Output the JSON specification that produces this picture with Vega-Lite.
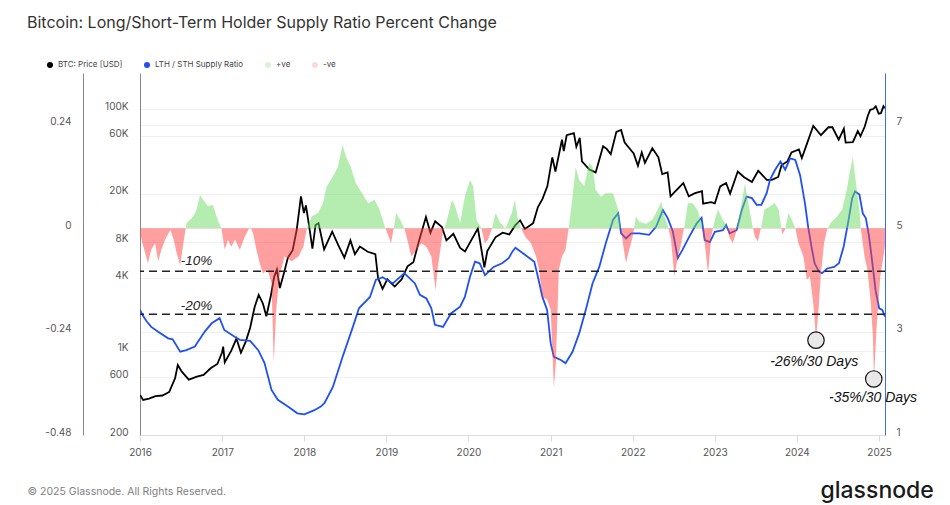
{
  "$schema": "https://vega.github.io/schema/vega-lite/v6.json",
  "width": 745,
  "height": 362,
  "autosize": "none",
  "padding": {"left": 140, "top": 73, "right": 65, "bottom": 70},
  "background": "white",
  "config": {
    "view": {"stroke": null},
    "font": "Inter",
    "axis": {"labelFont": "Inter", "titleFont": "Inter"}
  },
  "title": {
    "text": "Bitcoin: Long/Short-Term Holder Supply Ratio Percent Change",
    "anchor": "start",
    "frame": "group",
    "dx": -113,
    "fontSize": 16,
    "fontWeight": 400,
    "font": "Inter",
    "color": "#333333",
    "orient": "top",
    "offset": 30
  },
  "datasets": {
    "price": [
      {"date": "2016-01-01", "price": 430},
      {"date": "2016-01-15", "price": 390},
      {"date": "2016-02-10", "price": 400},
      {"date": "2016-03-10", "price": 420},
      {"date": "2016-04-10", "price": 425},
      {"date": "2016-05-10", "price": 455},
      {"date": "2016-06-05", "price": 590},
      {"date": "2016-06-17", "price": 760},
      {"date": "2016-07-05", "price": 670},
      {"date": "2016-08-05", "price": 575},
      {"date": "2016-09-10", "price": 610},
      {"date": "2016-10-10", "price": 630},
      {"date": "2016-11-10", "price": 715},
      {"date": "2016-12-10", "price": 775},
      {"date": "2016-12-31", "price": 965},
      {"date": "2017-01-05", "price": 1080},
      {"date": "2017-01-12", "price": 800},
      {"date": "2017-02-10", "price": 1000},
      {"date": "2017-03-05", "price": 1260},
      {"date": "2017-03-25", "price": 960},
      {"date": "2017-04-15", "price": 1180},
      {"date": "2017-05-05", "price": 1550},
      {"date": "2017-05-25", "price": 2300},
      {"date": "2017-06-12", "price": 2900},
      {"date": "2017-07-01", "price": 2450},
      {"date": "2017-07-16", "price": 1930},
      {"date": "2017-08-05", "price": 2850},
      {"date": "2017-08-20", "price": 4100},
      {"date": "2017-09-01", "price": 4700},
      {"date": "2017-09-14", "price": 3300},
      {"date": "2017-10-01", "price": 4300},
      {"date": "2017-10-20", "price": 5900},
      {"date": "2017-11-10", "price": 6800},
      {"date": "2017-11-28", "price": 10000},
      {"date": "2017-12-17", "price": 19000},
      {"date": "2017-12-30", "price": 13800},
      {"date": "2018-01-08", "price": 16000},
      {"date": "2018-01-20", "price": 11500},
      {"date": "2018-02-06", "price": 7000},
      {"date": "2018-02-20", "price": 11000},
      {"date": "2018-03-05", "price": 11400},
      {"date": "2018-03-30", "price": 6900},
      {"date": "2018-05-05", "price": 9700},
      {"date": "2018-06-01", "price": 7500},
      {"date": "2018-06-28", "price": 5900},
      {"date": "2018-07-25", "price": 8200},
      {"date": "2018-08-14", "price": 6300},
      {"date": "2018-09-05", "price": 7300},
      {"date": "2018-10-10", "price": 6600},
      {"date": "2018-11-13", "price": 6300},
      {"date": "2018-11-25", "price": 4000},
      {"date": "2018-12-15", "price": 3250},
      {"date": "2019-01-05", "price": 3900},
      {"date": "2019-02-07", "price": 3400},
      {"date": "2019-03-10", "price": 3900},
      {"date": "2019-04-05", "price": 5000},
      {"date": "2019-05-01", "price": 5400},
      {"date": "2019-05-25", "price": 8000},
      {"date": "2019-06-26", "price": 12800},
      {"date": "2019-07-16", "price": 9500},
      {"date": "2019-08-06", "price": 11800},
      {"date": "2019-09-05", "price": 10600},
      {"date": "2019-09-25", "price": 8200},
      {"date": "2019-10-26", "price": 9300},
      {"date": "2019-11-25", "price": 7100},
      {"date": "2019-12-17", "price": 6650},
      {"date": "2020-01-10", "price": 8000},
      {"date": "2020-02-12", "price": 10300},
      {"date": "2020-03-12", "price": 4900},
      {"date": "2020-03-25", "price": 6700},
      {"date": "2020-04-30", "price": 8700},
      {"date": "2020-06-01", "price": 9500},
      {"date": "2020-07-01", "price": 9200},
      {"date": "2020-07-28", "price": 11000},
      {"date": "2020-08-18", "price": 12000},
      {"date": "2020-09-08", "price": 10200},
      {"date": "2020-10-15", "price": 11400},
      {"date": "2020-11-05", "price": 15500},
      {"date": "2020-11-25", "price": 18000},
      {"date": "2020-12-17", "price": 23000},
      {"date": "2021-01-08", "price": 40000},
      {"date": "2021-01-22", "price": 30500},
      {"date": "2021-02-20", "price": 56000},
      {"date": "2021-02-28", "price": 45000},
      {"date": "2021-03-13", "price": 61000},
      {"date": "2021-04-14", "price": 63500},
      {"date": "2021-04-25", "price": 49000},
      {"date": "2021-05-10", "price": 58000},
      {"date": "2021-05-20", "price": 37000},
      {"date": "2021-06-22", "price": 31700},
      {"date": "2021-07-20", "price": 30000},
      {"date": "2021-08-22", "price": 49500},
      {"date": "2021-09-07", "price": 47000},
      {"date": "2021-09-25", "price": 42500},
      {"date": "2021-10-20", "price": 65000},
      {"date": "2021-11-10", "price": 67500},
      {"date": "2021-11-26", "price": 53000},
      {"date": "2021-12-15", "price": 48000},
      {"date": "2022-01-05", "price": 43000},
      {"date": "2022-01-24", "price": 34000},
      {"date": "2022-02-10", "price": 44000},
      {"date": "2022-02-24", "price": 36000},
      {"date": "2022-03-29", "price": 47500},
      {"date": "2022-04-25", "price": 40000},
      {"date": "2022-05-12", "price": 29000},
      {"date": "2022-06-05", "price": 30000},
      {"date": "2022-06-18", "price": 19000},
      {"date": "2022-07-10", "price": 21000},
      {"date": "2022-08-14", "price": 24500},
      {"date": "2022-09-07", "price": 19000},
      {"date": "2022-10-05", "price": 20200},
      {"date": "2022-11-05", "price": 21000},
      {"date": "2022-11-10", "price": 16500},
      {"date": "2022-12-15", "price": 17000},
      {"date": "2023-01-01", "price": 16600},
      {"date": "2023-01-25", "price": 23000},
      {"date": "2023-02-20", "price": 24500},
      {"date": "2023-03-10", "price": 20000},
      {"date": "2023-04-13", "price": 30500},
      {"date": "2023-05-10", "price": 27500},
      {"date": "2023-06-15", "price": 25000},
      {"date": "2023-07-13", "price": 31000},
      {"date": "2023-08-20", "price": 26000},
      {"date": "2023-09-12", "price": 26000},
      {"date": "2023-10-10", "price": 27500},
      {"date": "2023-10-25", "price": 34500},
      {"date": "2023-11-20", "price": 37000},
      {"date": "2023-12-08", "price": 44000},
      {"date": "2024-01-10", "price": 46500},
      {"date": "2024-01-23", "price": 39500},
      {"date": "2024-02-15", "price": 52000},
      {"date": "2024-03-14", "price": 73000},
      {"date": "2024-04-17", "price": 61000},
      {"date": "2024-05-20", "price": 71000},
      {"date": "2024-06-07", "price": 71000},
      {"date": "2024-07-05", "price": 56000},
      {"date": "2024-07-28", "price": 69000},
      {"date": "2024-08-05", "price": 53000},
      {"date": "2024-09-06", "price": 53500},
      {"date": "2024-09-28", "price": 66000},
      {"date": "2024-10-10", "price": 60000},
      {"date": "2024-10-29", "price": 72000},
      {"date": "2024-11-12", "price": 89000},
      {"date": "2024-11-22", "price": 99000},
      {"date": "2024-12-05", "price": 100500},
      {"date": "2024-12-17", "price": 106000},
      {"date": "2024-12-30", "price": 92000},
      {"date": "2025-01-09", "price": 93000},
      {"date": "2025-01-20", "price": 106000},
      {"date": "2025-01-26", "price": 102000}
    ],
    "ratio": [
      {"date": "2016-01-01", "ratio": 3.42},
      {"date": "2016-01-15", "ratio": 3.30},
      {"date": "2016-02-01", "ratio": 3.19},
      {"date": "2016-02-20", "ratio": 3.09},
      {"date": "2016-03-20", "ratio": 3.00},
      {"date": "2016-05-05", "ratio": 2.87},
      {"date": "2016-05-25", "ratio": 2.85},
      {"date": "2016-06-28", "ratio": 2.61},
      {"date": "2016-07-25", "ratio": 2.64},
      {"date": "2016-09-01", "ratio": 2.71},
      {"date": "2016-10-15", "ratio": 3.00},
      {"date": "2016-11-15", "ratio": 3.16},
      {"date": "2016-12-20", "ratio": 3.26},
      {"date": "2017-01-10", "ratio": 3.03},
      {"date": "2017-02-25", "ratio": 2.90},
      {"date": "2017-03-20", "ratio": 2.84},
      {"date": "2017-05-05", "ratio": 2.82},
      {"date": "2017-06-10", "ratio": 2.64},
      {"date": "2017-07-08", "ratio": 2.39},
      {"date": "2017-08-08", "ratio": 1.87},
      {"date": "2017-09-05", "ratio": 1.68},
      {"date": "2017-10-20", "ratio": 1.55},
      {"date": "2017-12-01", "ratio": 1.42},
      {"date": "2018-01-01", "ratio": 1.40},
      {"date": "2018-02-15", "ratio": 1.48},
      {"date": "2018-03-15", "ratio": 1.55},
      {"date": "2018-04-01", "ratio": 1.62},
      {"date": "2018-05-08", "ratio": 1.93},
      {"date": "2018-06-20", "ratio": 2.51},
      {"date": "2018-08-05", "ratio": 3.09},
      {"date": "2018-09-01", "ratio": 3.45},
      {"date": "2018-10-20", "ratio": 3.67},
      {"date": "2018-11-15", "ratio": 4.00},
      {"date": "2018-12-15", "ratio": 4.05},
      {"date": "2019-01-30", "ratio": 3.93},
      {"date": "2019-03-22", "ratio": 4.13},
      {"date": "2019-05-08", "ratio": 3.93},
      {"date": "2019-05-30", "ratio": 3.71},
      {"date": "2019-06-28", "ratio": 3.64},
      {"date": "2019-07-20", "ratio": 3.45},
      {"date": "2019-08-05", "ratio": 3.13},
      {"date": "2019-09-10", "ratio": 3.09},
      {"date": "2019-10-15", "ratio": 3.35},
      {"date": "2019-11-25", "ratio": 3.48},
      {"date": "2019-12-16", "ratio": 3.67},
      {"date": "2020-01-08", "ratio": 4.06},
      {"date": "2020-01-30", "ratio": 4.35},
      {"date": "2020-02-20", "ratio": 4.32},
      {"date": "2020-03-15", "ratio": 4.09},
      {"date": "2020-04-22", "ratio": 4.25},
      {"date": "2020-05-30", "ratio": 4.32},
      {"date": "2020-06-28", "ratio": 4.42},
      {"date": "2020-07-15", "ratio": 4.55},
      {"date": "2020-07-28", "ratio": 4.62},
      {"date": "2020-09-10", "ratio": 4.48},
      {"date": "2020-10-20", "ratio": 4.35},
      {"date": "2020-11-05", "ratio": 4.06},
      {"date": "2020-11-25", "ratio": 3.67},
      {"date": "2020-12-16", "ratio": 3.42},
      {"date": "2021-01-01", "ratio": 2.77},
      {"date": "2021-01-15", "ratio": 2.51},
      {"date": "2021-02-15", "ratio": 2.45},
      {"date": "2021-03-08", "ratio": 2.39},
      {"date": "2021-04-08", "ratio": 2.61},
      {"date": "2021-05-08", "ratio": 2.97},
      {"date": "2021-06-06", "ratio": 3.42},
      {"date": "2021-07-06", "ratio": 3.93},
      {"date": "2021-08-05", "ratio": 4.25},
      {"date": "2021-09-03", "ratio": 4.71},
      {"date": "2021-10-05", "ratio": 5.16},
      {"date": "2021-10-28", "ratio": 5.29},
      {"date": "2021-11-10", "ratio": 4.90},
      {"date": "2021-12-02", "ratio": 4.80},
      {"date": "2021-12-25", "ratio": 4.90},
      {"date": "2022-01-30", "ratio": 4.90},
      {"date": "2022-03-15", "ratio": 4.87},
      {"date": "2022-04-15", "ratio": 5.03},
      {"date": "2022-05-15", "ratio": 5.35},
      {"date": "2022-06-06", "ratio": 5.19},
      {"date": "2022-06-28", "ratio": 4.94},
      {"date": "2022-07-20", "ratio": 4.42},
      {"date": "2022-08-10", "ratio": 4.58},
      {"date": "2022-09-10", "ratio": 4.84},
      {"date": "2022-10-12", "ratio": 5.09},
      {"date": "2022-11-03", "ratio": 5.20},
      {"date": "2022-11-17", "ratio": 4.77},
      {"date": "2022-12-10", "ratio": 4.73},
      {"date": "2023-01-01", "ratio": 4.93},
      {"date": "2023-02-06", "ratio": 4.96},
      {"date": "2023-02-20", "ratio": 5.06},
      {"date": "2023-03-08", "ratio": 4.90},
      {"date": "2023-04-08", "ratio": 4.96},
      {"date": "2023-05-01", "ratio": 5.35},
      {"date": "2023-05-22", "ratio": 5.61},
      {"date": "2023-06-15", "ratio": 5.58},
      {"date": "2023-07-06", "ratio": 5.45},
      {"date": "2023-07-27", "ratio": 5.45},
      {"date": "2023-08-20", "ratio": 5.68},
      {"date": "2023-09-03", "ratio": 5.93},
      {"date": "2023-09-25", "ratio": 6.12},
      {"date": "2023-10-20", "ratio": 6.29},
      {"date": "2023-11-10", "ratio": 6.13},
      {"date": "2023-12-02", "ratio": 6.35},
      {"date": "2023-12-25", "ratio": 6.32},
      {"date": "2024-01-15", "ratio": 6.03},
      {"date": "2024-02-06", "ratio": 5.48},
      {"date": "2024-02-20", "ratio": 5.03},
      {"date": "2024-03-06", "ratio": 4.64},
      {"date": "2024-03-20", "ratio": 4.32},
      {"date": "2024-04-08", "ratio": 4.16},
      {"date": "2024-04-22", "ratio": 4.13},
      {"date": "2024-05-15", "ratio": 4.22},
      {"date": "2024-06-15", "ratio": 4.25},
      {"date": "2024-07-06", "ratio": 4.32},
      {"date": "2024-07-27", "ratio": 4.64},
      {"date": "2024-08-18", "ratio": 5.16},
      {"date": "2024-09-03", "ratio": 5.58},
      {"date": "2024-09-16", "ratio": 5.71},
      {"date": "2024-10-05", "ratio": 5.65},
      {"date": "2024-10-20", "ratio": 5.29},
      {"date": "2024-11-03", "ratio": 5.19},
      {"date": "2024-11-17", "ratio": 4.84},
      {"date": "2024-12-02", "ratio": 4.32},
      {"date": "2024-12-16", "ratio": 3.80},
      {"date": "2025-01-01", "ratio": 3.45},
      {"date": "2025-01-15", "ratio": 3.42},
      {"date": "2025-01-27", "ratio": 3.29}
    ],
    "pct": [
      {"date": "2016-01-01", "pct": -0.005},
      {"date": "2016-01-08", "pct": -0.028},
      {"date": "2016-01-29", "pct": -0.067},
      {"date": "2016-02-05", "pct": -0.082},
      {"date": "2016-02-20", "pct": -0.05},
      {"date": "2016-03-08", "pct": -0.035},
      {"date": "2016-03-22", "pct": -0.077},
      {"date": "2016-04-05", "pct": -0.05},
      {"date": "2016-04-25", "pct": -0.023},
      {"date": "2016-05-15", "pct": -0.004},
      {"date": "2016-05-30", "pct": -0.027},
      {"date": "2016-06-12", "pct": -0.058},
      {"date": "2016-06-28", "pct": -0.086},
      {"date": "2016-07-12", "pct": -0.035},
      {"date": "2016-07-26", "pct": 0.012},
      {"date": "2016-08-25", "pct": 0.027},
      {"date": "2016-09-08", "pct": 0.042},
      {"date": "2016-09-24", "pct": 0.077},
      {"date": "2016-10-08", "pct": 0.066},
      {"date": "2016-10-30", "pct": 0.05},
      {"date": "2016-11-20", "pct": 0.054},
      {"date": "2016-12-12", "pct": 0.019},
      {"date": "2016-12-28", "pct": 0.0},
      {"date": "2017-01-12", "pct": -0.05},
      {"date": "2017-01-26", "pct": -0.027},
      {"date": "2017-02-10", "pct": -0.043},
      {"date": "2017-02-27", "pct": -0.027},
      {"date": "2017-03-20", "pct": -0.05},
      {"date": "2017-04-12", "pct": -0.019},
      {"date": "2017-05-05", "pct": 0.004},
      {"date": "2017-05-18", "pct": -0.012},
      {"date": "2017-06-02", "pct": -0.05},
      {"date": "2017-06-17", "pct": -0.082},
      {"date": "2017-07-01", "pct": -0.105},
      {"date": "2017-07-22", "pct": -0.097},
      {"date": "2017-08-08", "pct": -0.128},
      {"date": "2017-08-18", "pct": -0.314},
      {"date": "2017-08-29", "pct": -0.19},
      {"date": "2017-09-12", "pct": -0.112},
      {"date": "2017-10-05", "pct": -0.066},
      {"date": "2017-11-06", "pct": -0.077},
      {"date": "2017-12-06", "pct": -0.066},
      {"date": "2017-12-28", "pct": -0.043},
      {"date": "2018-01-12", "pct": 0.0},
      {"date": "2018-02-02", "pct": 0.027},
      {"date": "2018-03-03", "pct": 0.035},
      {"date": "2018-03-25", "pct": 0.058},
      {"date": "2018-04-10", "pct": 0.096},
      {"date": "2018-05-08", "pct": 0.12},
      {"date": "2018-05-30", "pct": 0.142},
      {"date": "2018-06-20", "pct": 0.193},
      {"date": "2018-07-05", "pct": 0.166},
      {"date": "2018-07-27", "pct": 0.142},
      {"date": "2018-08-18", "pct": 0.104},
      {"date": "2018-09-10", "pct": 0.085},
      {"date": "2018-10-12", "pct": 0.058},
      {"date": "2018-11-10", "pct": 0.066},
      {"date": "2018-12-02", "pct": 0.042},
      {"date": "2018-12-25", "pct": 0.004},
      {"date": "2019-01-22", "pct": -0.035},
      {"date": "2019-02-14", "pct": 0.035},
      {"date": "2019-03-08", "pct": 0.015},
      {"date": "2019-03-22", "pct": 0.0},
      {"date": "2019-04-08", "pct": -0.035},
      {"date": "2019-04-22", "pct": -0.066},
      {"date": "2019-05-15", "pct": -0.05},
      {"date": "2019-06-06", "pct": -0.035},
      {"date": "2019-06-28", "pct": -0.043},
      {"date": "2019-07-20", "pct": -0.066},
      {"date": "2019-08-08", "pct": -0.144},
      {"date": "2019-08-18", "pct": -0.089},
      {"date": "2019-09-10", "pct": -0.008},
      {"date": "2019-09-24", "pct": 0.012},
      {"date": "2019-10-20", "pct": 0.066},
      {"date": "2019-11-03", "pct": 0.05},
      {"date": "2019-11-25", "pct": 0.012},
      {"date": "2019-12-16", "pct": 0.073},
      {"date": "2020-01-08", "pct": 0.112},
      {"date": "2020-01-22", "pct": 0.097},
      {"date": "2020-02-06", "pct": 0.019},
      {"date": "2020-02-28", "pct": 0.0},
      {"date": "2020-03-14", "pct": -0.035},
      {"date": "2020-03-28", "pct": -0.027},
      {"date": "2020-04-15", "pct": 0.0},
      {"date": "2020-05-01", "pct": 0.035},
      {"date": "2020-05-22", "pct": 0.012},
      {"date": "2020-06-14", "pct": 0.0},
      {"date": "2020-07-12", "pct": 0.035},
      {"date": "2020-07-26", "pct": 0.066},
      {"date": "2020-08-08", "pct": 0.02},
      {"date": "2020-08-25", "pct": -0.004},
      {"date": "2020-09-10", "pct": -0.02},
      {"date": "2020-10-05", "pct": -0.035},
      {"date": "2020-10-28", "pct": -0.066},
      {"date": "2020-11-10", "pct": -0.097},
      {"date": "2020-11-25", "pct": -0.159},
      {"date": "2020-12-16", "pct": -0.166},
      {"date": "2021-01-01", "pct": -0.19},
      {"date": "2021-01-15", "pct": -0.37},
      {"date": "2021-01-24", "pct": -0.313},
      {"date": "2021-02-06", "pct": -0.097},
      {"date": "2021-02-20", "pct": -0.066},
      {"date": "2021-03-08", "pct": -0.05},
      {"date": "2021-03-22", "pct": 0.0},
      {"date": "2021-04-08", "pct": 0.073},
      {"date": "2021-04-22", "pct": 0.142},
      {"date": "2021-05-08", "pct": 0.112},
      {"date": "2021-05-30", "pct": 0.097},
      {"date": "2021-06-21", "pct": 0.151},
      {"date": "2021-07-06", "pct": 0.143},
      {"date": "2021-07-20", "pct": 0.089},
      {"date": "2021-08-12", "pct": 0.073},
      {"date": "2021-09-03", "pct": 0.081},
      {"date": "2021-10-05", "pct": 0.081},
      {"date": "2021-10-28", "pct": 0.043},
      {"date": "2021-11-10", "pct": -0.004},
      {"date": "2021-11-18", "pct": -0.035},
      {"date": "2021-12-02", "pct": -0.081},
      {"date": "2021-12-16", "pct": -0.05},
      {"date": "2022-01-01", "pct": -0.019},
      {"date": "2022-01-15", "pct": 0.027},
      {"date": "2022-01-30", "pct": 0.015},
      {"date": "2022-03-01", "pct": 0.01},
      {"date": "2022-03-28", "pct": 0.019},
      {"date": "2022-04-22", "pct": 0.043},
      {"date": "2022-05-08", "pct": 0.062},
      {"date": "2022-05-22", "pct": 0.027},
      {"date": "2022-06-06", "pct": 0.005},
      {"date": "2022-06-20", "pct": -0.027},
      {"date": "2022-07-05", "pct": -0.113},
      {"date": "2022-07-16", "pct": -0.081},
      {"date": "2022-08-04", "pct": -0.035},
      {"date": "2022-08-19", "pct": 0.005},
      {"date": "2022-09-03", "pct": 0.058},
      {"date": "2022-09-25", "pct": 0.058},
      {"date": "2022-10-18", "pct": 0.04},
      {"date": "2022-11-03", "pct": 0.012},
      {"date": "2022-11-17", "pct": -0.035},
      {"date": "2022-12-02", "pct": -0.105},
      {"date": "2022-12-16", "pct": -0.02},
      {"date": "2023-01-01", "pct": 0.019},
      {"date": "2023-01-15", "pct": 0.043},
      {"date": "2023-02-06", "pct": 0.019},
      {"date": "2023-02-20", "pct": 0.008},
      {"date": "2023-03-08", "pct": -0.023},
      {"date": "2023-03-22", "pct": -0.035},
      {"date": "2023-04-08", "pct": -0.005},
      {"date": "2023-04-30", "pct": 0.058},
      {"date": "2023-05-15", "pct": 0.104},
      {"date": "2023-05-30", "pct": 0.058},
      {"date": "2023-06-15", "pct": 0.012},
      {"date": "2023-06-28", "pct": -0.02},
      {"date": "2023-07-12", "pct": -0.031},
      {"date": "2023-07-27", "pct": 0.005},
      {"date": "2023-08-10", "pct": 0.043},
      {"date": "2023-09-03", "pct": 0.05},
      {"date": "2023-09-24", "pct": 0.058},
      {"date": "2023-10-12", "pct": 0.043},
      {"date": "2023-10-28", "pct": -0.015},
      {"date": "2023-11-10", "pct": -0.002},
      {"date": "2023-11-25", "pct": 0.035},
      {"date": "2023-12-10", "pct": 0.019},
      {"date": "2023-12-25", "pct": 0.0},
      {"date": "2024-01-08", "pct": -0.035},
      {"date": "2024-01-30", "pct": -0.066},
      {"date": "2024-02-14", "pct": -0.12},
      {"date": "2024-02-28", "pct": -0.112},
      {"date": "2024-03-14", "pct": -0.175},
      {"date": "2024-03-26", "pct": -0.255},
      {"date": "2024-04-05", "pct": -0.2},
      {"date": "2024-04-16", "pct": -0.112},
      {"date": "2024-05-01", "pct": -0.035},
      {"date": "2024-05-15", "pct": -0.002},
      {"date": "2024-05-30", "pct": 0.012},
      {"date": "2024-06-28", "pct": 0.027},
      {"date": "2024-07-20", "pct": 0.043},
      {"date": "2024-08-10", "pct": 0.089},
      {"date": "2024-08-25", "pct": 0.135},
      {"date": "2024-09-06", "pct": 0.165},
      {"date": "2024-09-16", "pct": 0.12},
      {"date": "2024-10-05", "pct": 0.043},
      {"date": "2024-10-12", "pct": -0.004},
      {"date": "2024-10-28", "pct": -0.066},
      {"date": "2024-11-10", "pct": -0.097},
      {"date": "2024-11-25", "pct": -0.175},
      {"date": "2024-12-04", "pct": -0.25},
      {"date": "2024-12-09", "pct": -0.35},
      {"date": "2024-12-20", "pct": -0.236},
      {"date": "2025-01-06", "pct": -0.112},
      {"date": "2025-01-20", "pct": -0.066},
      {"date": "2025-01-27", "pct": -0.04}
    ],
    "levels": [
      {"pct": -0.1, "label": "-10%", "date": "2016-09-08", "ly": -0.076},
      {"pct": -0.2, "label": "-20%", "date": "2016-09-08", "ly": -0.180}
    ],
    "marks": [
      {"date": "2024-03-26", "pct": -0.26, "label": "-26%/30 Days", "ldate": "2024-03-18", "ly": -0.311},
      {"date": "2024-12-08", "pct": -0.35, "label": "-35%/30 Days", "ldate": "2024-12-05", "ly": -0.394}
    ]
  },
  "encoding": {
    "x": {
      "field": "date",
      "type": "temporal",
      "scale": {"domain": [{"year": 2016, "month": 1, "date": 1}, {"year": 2025, "month": 1, "date": 27}]},
      "axis": {
        "format": "%Y",
        "tickCount": "year",
        "labelColor": "#555555",
        "labelFontSize": 10,
        "labelPadding": 6,
        "domainColor": "#dddddd",
        "tickColor": "#dddddd",
        "tickSize": 6,
        "grid": false,
        "labelFlush": false,
        "title": "© 2025 Glassnode. All Rights Reserved.",
        "titleX": -113,
        "titleY": 59,
        "titleAlign": "left",
        "titleAnchor": "start",
        "titleBaseline": "alphabetic",
        "titleFontSize": 10.5,
        "titleFontWeight": "normal",
        "titleColor": "#808080"
      }
    }
  },
  "resolve": {"scale": {"y": "independent"}},
  "layer": [
    {
      "data": {"name": "price"},
      "mark": {"type": "line", "strokeWidth": 1.8, "clip": true},
      "encoding": {
        "y": {
          "field": "price",
          "type": "quantitative",
          "scale": {"type": "log", "domain": [200, 200000], "nice": false},
          "axis": {
            "orient": "left",
            "offset": 0,
            "values": [200, 600, 1000, 4000, 8000, 20000, 60000, 100000],
            "labelExpr": "datum.value >= 1000 ? (datum.value / 1000) + 'K' : '' + datum.value",
            "title": null,
            "ticks": false,
            "domainColor": "#888888",
            "labelColor": "#555555",
            "labelFontSize": 10,
            "labelPadding": 12,
            "labelBaseline": "alphabetic",
            "grid": true,
            "gridColor": "#f0f0f0"
          }
        },
        "color": {
          "datum": "BTC: Price [USD]",
          "scale": {
            "domain": ["BTC: Price [USD]", "LTH / STH Supply Ratio", "+ve", "-ve"],
            "range": ["#000000", "#1f50f5", "#d8f3d6", "#ffd8d8"]
          },
          "legend": {
            "title": null,
            "orient": "none",
            "legendX": -94,
            "legendY": -12,
            "direction": "horizontal",
            "symbolType": "circle",
            "symbolSize": 36,
            "labelFontSize": 8,
            "labelColor": "#444444",
            "labelFont": "Inter",
            "columnPadding": 20,
            "symbolStrokeWidth": 0,
            "encode": {
              "symbols": {
                "update": {
                  "fill": {"scale": "color", "field": "value"},
                  "stroke": {"value": "transparent"},
                  "opacity": {"value": 1}
                }
              }
            }
          }
        }
      }
    },
    {
      "data": {"name": "ratio"},
      "mark": {"type": "line", "strokeWidth": 1.8, "clip": true},
      "encoding": {
        "y": {
          "field": "ratio",
          "type": "quantitative",
          "scale": {"domain": [1, 8], "nice": false, "zero": false},
          "axis": {
            "orient": "right",
            "values": [1, 3, 5, 7],
            "labelExpr": "'' + datum.value",
            "title": "glassnode",
            "titleAngle": 0,
            "titleX": -65,
            "titleY": 424,
            "titleAlign": "left",
            "titleBaseline": "alphabetic",
            "titleFontSize": 23,
            "titleFontWeight": 500,
            "titleColor": "#1a1a1a",
            "ticks": false,
            "domainColor": "#3d6cf0",
            "labelColor": "#555555",
            "labelFontSize": 10,
            "labelPadding": 11,
            "labelBaseline": "alphabetic",
            "grid": false
          }
        },
        "color": {"datum": "LTH / STH Supply Ratio"}
      }
    },
    {
      "layer": [
        {
          "data": {"name": "pct"},
          "mark": {
            "type": "area",
            "interpolate": "linear",
            "clip": true,
            "fillOpacity": 0.5,
            "fill": {
              "gradient": "linear",
              "x1": 0, "y1": 0, "x2": 0, "y2": 1,
              "stops": [
                {"offset": 0, "color": "#6bd961"},
                {"offset": 0.3428, "color": "#6bd961"},
                {"offset": 0.3428, "color": "#ff3f3f"},
                {"offset": 1, "color": "#ff3f3f"}
              ]
            }
          },
          "encoding": {
            "y": {
              "field": "pct",
              "type": "quantitative",
              "scale": {"domain": [-0.48, 0.36], "nice": false, "zero": false},
              "axis": {
                "orient": "left",
                "offset": 57,
                "values": [-0.48, -0.24, 0, 0.24],
                "labelExpr": "'' + datum.value",
                "title": null,
                "ticks": false,
                "domainColor": "#888888",
                "labelColor": "#555555",
                "labelFontSize": 10,
                "labelPadding": 12,
                "labelBaseline": "alphabetic",
                "grid": true,
                "gridColor": "#f0f0f0"
              }
            },
            "y2": {"datum": 0}
          }
        },
        {
          "data": {"name": "levels"},
          "mark": {"type": "rule", "strokeDash": [8, 5], "strokeWidth": 1.5, "color": "#222222"},
          "encoding": {
            "x": null,
            "y": {"field": "pct", "type": "quantitative"}
          }
        },
        {
          "data": {"name": "levels"},
          "mark": {"type": "text", "font": "Liberation Sans", "fontStyle": "italic", "fontSize": 13.5, "color": "#222222", "baseline": "middle", "align": "center"},
          "encoding": {
            "y": {"field": "ly", "type": "quantitative"},
            "text": {"field": "label"}
          }
        },
        {
          "data": {"name": "marks"},
          "mark": {"type": "point", "shape": "circle", "filled": true, "size": 270, "fill": "#e4e4e4", "fillOpacity": 0.8, "stroke": "#111111", "strokeWidth": 1.2},
          "encoding": {
            "y": {"field": "pct", "type": "quantitative"}
          }
        },
        {
          "data": {"name": "marks"},
          "mark": {"type": "text", "font": "Liberation Sans", "fontStyle": "italic", "fontSize": 14, "color": "#111111", "baseline": "middle", "align": "center"},
          "encoding": {
            "x": {"field": "ldate", "type": "temporal"},
            "y": {"field": "ly", "type": "quantitative"},
            "text": {"field": "label"}
          }
        }
      ]
    }
  ]
}
